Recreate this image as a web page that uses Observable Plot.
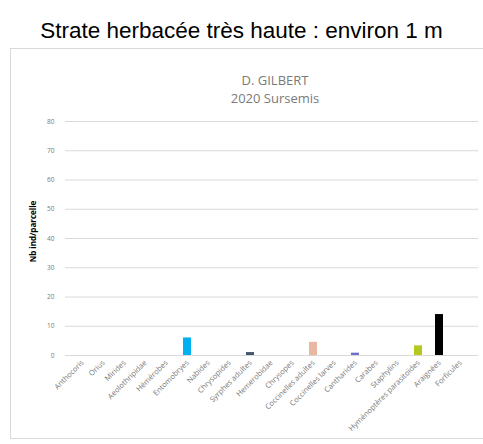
<!DOCTYPE html>
<html>
<head>
<meta charset="utf-8">
<script src="https://cdn.jsdelivr.net/npm/d3@7"></script>
<script src="https://cdn.jsdelivr.net/npm/@observablehq/plot@0.6"></script>
<style>
  html, body { margin: 0; padding: 0; background: #fff; width: 483px; height: 444px; overflow: hidden; position: relative; font-family: "Liberation Sans", Arial, sans-serif; }
  #title { position: absolute; left: 0; top: 17px; width: 483px; text-align: center; font-size: 22.5px; line-height: 27px; color: #000; }
  #frame { position: absolute; left: 10px; top: 48px; width: 480px; height: 391px; border: 1px solid #d9d9d9; box-sizing: border-box; }
  .sub { position: absolute; left: 175px; width: 200px; text-align: center; font-family: "Open Sans", "DejaVu Sans", sans-serif; font-size: 13px; line-height: 16px; color: #7a7a7a; }
  #chart { position: absolute; left: 0; top: 110px; }
</style>
</head>
<body>
<div id="title">Strate herbacée très haute : environ 1 m</div>
<div id="frame"></div>
<div class="sub" style="top:72px">D. GILBERT</div>
<div class="sub" style="top:90px">2020 Sursemis</div>
<div id="chart"></div>
<script>
const categories = [
  "Anthocoris", "Orius", "Mirides", "Aeolothripidae", "Hémérobes",
  "Entomobryes", "Nabides", "Chrysopides", "Syrphes adultes", "Hemerobidae",
  "Chrysopes", "Coccinelles adultes", "Coccinelles larves", "Cantharides",
  "Carabes", "Staphylins", "Hyménoptères parasitoïdes", "Araignées", "Forficules"
];
const values = [0, 0, 0, 0, 0, 6, 0, 0, 1, 0, 0, 4.5, 0, 0.8, 0, 0, 3.3, 14, 0];
const colors = [
  "#5b9bd5", "#ed7d31", "#a5a5a5", "#ffc000", "#4472c4",
  "#00b0f0", "#70ad47", "#264478", "#44546a", "#636363",
  "#997300", "#e8b8a0", "#255e91", "#6f6fc8", "#43682b",
  "#fff2a0", "#b5c81e", "#000000", "#7f7f7f"
];
const yTicks = [0, 10, 20, 30, 40, 50, 60, 70, 80];

const data = categories.map((c, i) => ({ cat: c, value: values[i], color: colors[i] }));

const chart = Plot.plot({
  width: 483,
  height: 334,
  marginTop: 11,
  marginBottom: 89,
  marginLeft: 65,
  marginRight: 5,
  style: { fontFamily: "'Open Sans', 'DejaVu Sans', sans-serif", background: "transparent", overflow: "visible" },
  x: { type: "band", domain: categories, paddingInner: 0.6, paddingOuter: 0.3, label: null },
  y: { domain: [0, 80], label: null },
  marks: [
    Plot.gridY(yTicks, { stroke: "#d9d9d9", strokeOpacity: 1 }),
    Plot.axisY(yTicks, { tickSize: 0, tickPadding: 11, fontSize: 6.5, fill: "#7a7a7a", label: null }),
    Plot.text(["Nb ind/parcelle"], {
      frameAnchor: "left", dx: -32, dy: -7, rotate: -90, fontWeight: "bold", fontSize: 8, fill: "#000", textAnchor: "middle"
    }),
    Plot.barY(data, { x: "cat", y: "value", fill: d => d.color }),
    Plot.ruleY([0], { stroke: "#d9d9d9" }),
    Plot.axisX({ tickSize: 0, tickPadding: 6, tickRotate: -45, fontSize: 7.5, fill: "#7a7a7a", label: null })
  ]
});
document.getElementById("chart").appendChild(chart);
</script>
</body>
</html>
